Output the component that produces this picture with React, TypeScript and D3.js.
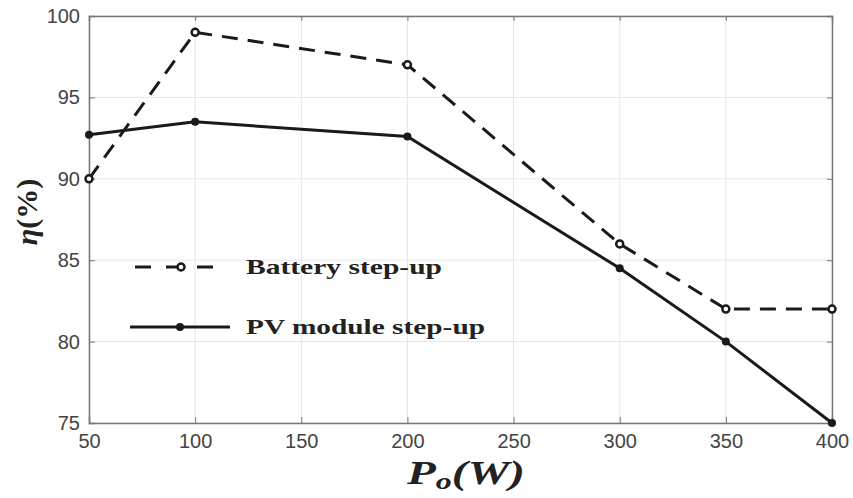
import React, { useEffect, useRef } from 'react';
import * as d3 from 'd3';

const powerW = [50, 100, 200, 300, 350, 400];
const batteryEff = [90, 99, 97, 86, 82, 82];
const pvEff = [92.7, 93.5, 92.6, 84.5, 80, 75];
const xTicks = [50, 100, 150, 200, 250, 300, 350, 400];
const yTicks = [75, 80, 85, 90, 95, 100];

const App = () => {
    const svgRef = useRef<SVGSVGElement>(null);

    useEffect(() => {
        const svg = d3.select(svgRef.current);
        svg.selectAll("*").remove();

        const width = 853;
        const height = 498;
        const marginLeft = 89;
        const marginRight = 21;
        const marginTop = 16;
        const marginBottom = 75;

        const x = d3.scaleLinear([50, 400], [marginLeft, width - marginRight]);
        const y = d3.scaleLinear([75, 100], [height - marginBottom, marginTop]);

        svg.attr("width", width).attr("height", height).style("display", "block");

        svg.append("rect").attr("width", width).attr("height", height).attr("fill", "#fff");

        // grid
        const grid = svg.append("g").attr("stroke", "#e6e6e6").attr("stroke-width", 1);
        xTicks.forEach(t => grid.append("line")
            .attr("x1", x(t)).attr("x2", x(t))
            .attr("y1", y(75)).attr("y2", y(100)));
        yTicks.forEach(t => grid.append("line")
            .attr("x1", x(50)).attr("x2", x(400))
            .attr("y1", y(t)).attr("y2", y(t)));

        const tickFont = "'Liberation Sans', Arial, sans-serif";

        // axes
        svg.append("g")
            .attr("transform", `translate(0,${y(75)})`)
            .call(d3.axisBottom(x).tickValues(xTicks).tickSize(-6).tickPadding(11).tickFormat(d3.format("d")))
            .call(g => g.select(".domain").attr("stroke", "#777").attr("stroke-width", 1.5))
            .call(g => g.selectAll(".tick line").attr("stroke", "#777"))
            .call(g => g.selectAll(".tick text")
                .attr("fill", "#444").attr("font-size", 20).attr("font-family", tickFont));

        svg.append("g")
            .attr("transform", `translate(${x(50)},0)`)
            .call(d3.axisLeft(y).tickValues(yTicks).tickSize(-6).tickPadding(9).tickFormat(d3.format("d")))
            .call(g => g.select(".domain").attr("stroke", "#777").attr("stroke-width", 1.5))
            .call(g => g.selectAll(".tick line").attr("stroke", "#777"))
            .call(g => g.selectAll(".tick text")
                .attr("fill", "#444").attr("font-size", 20).attr("font-family", tickFont));

        svg.append("g")
            .attr("transform", `translate(0,${y(100)})`)
            .call(d3.axisTop(x).tickValues(xTicks).tickSize(-5).tickFormat(() => ""))
            .call(g => g.select(".domain").attr("stroke", "#777").attr("stroke-width", 1.5))
            .call(g => g.selectAll(".tick line").attr("stroke", "#777"));

        svg.append("g")
            .attr("transform", `translate(${x(400)},0)`)
            .call(d3.axisRight(y).tickValues(yTicks).tickSize(-5).tickFormat(() => ""))
            .call(g => g.select(".domain").attr("stroke", "#777").attr("stroke-width", 1.5))
            .call(g => g.selectAll(".tick line").attr("stroke", "#777"));

        const line = d3.line<number>()
            .x((d, i) => x(powerW[i]))
            .y(d => y(d));

        // battery series
        svg.append("path")
            .attr("fill", "none")
            .attr("stroke", "#1a1a1a")
            .attr("stroke-width", 3)
            .attr("stroke-dasharray", "16,10")
            .attr("d", line(batteryEff));
        svg.append("g").selectAll("circle").data(batteryEff).join("circle")
            .attr("cx", (d, i) => x(powerW[i])).attr("cy", d => y(d))
            .attr("r", 3.5).attr("fill", "#fff").attr("stroke", "#1a1a1a").attr("stroke-width", 2.5);

        // pv series
        svg.append("path")
            .attr("fill", "none")
            .attr("stroke", "#1a1a1a")
            .attr("stroke-width", 3)
            .attr("d", line(pvEff));
        svg.append("g").selectAll("circle").data(pvEff).join("circle")
            .attr("cx", (d, i) => x(powerW[i])).attr("cy", d => y(d))
            .attr("r", 4).attr("fill", "#1a1a1a");

        // legend
        const legend = svg.append("g").attr("font-family", "'Liberation Serif', 'Times New Roman', serif")
            .attr("font-weight", "bold").attr("font-size", 21).attr("fill", "#222");
        legend.append("line").attr("x1", 135).attr("x2", 228).attr("y1", 267).attr("y2", 267)
            .attr("stroke", "#1a1a1a").attr("stroke-width", 3).attr("stroke-dasharray", "16,15");
        legend.append("circle").attr("cx", 181).attr("cy", 267).attr("r", 3.5)
            .attr("fill", "#fff").attr("stroke", "#1a1a1a").attr("stroke-width", 2.5);
        legend.append("text").attr("x", 246).attr("y", 274)
            .attr("textLength", 196).attr("lengthAdjust", "spacingAndGlyphs").text("Battery step-up");
        legend.append("line").attr("x1", 130).attr("x2", 230).attr("y1", 327).attr("y2", 327)
            .attr("stroke", "#1a1a1a").attr("stroke-width", 3);
        legend.append("circle").attr("cx", 180).attr("cy", 327).attr("r", 4).attr("fill", "#1a1a1a");
        legend.append("text").attr("x", 246).attr("y", 334)
            .attr("textLength", 239).attr("lengthAdjust", "spacingAndGlyphs").text("PV module step-up");

        // axis titles
        svg.append("text")
            .attr("transform", `translate(37,212) rotate(-90)`)
            .attr("text-anchor", "middle")
            .attr("font-family", "'Liberation Serif', 'Times New Roman', serif")
            .attr("font-size", 30).attr("font-weight", "bold").attr("fill", "#222")
            .call(t => t.append("tspan").attr("font-style", "italic").text("η"))
            .call(t => t.append("tspan").text("(%)"));

        svg.append("text")
            .attr("x", 407)
            .attr("y", 484)
            .attr("font-family", "'Liberation Serif', 'Times New Roman', serif")
            .attr("font-size", 34).attr("font-weight", "bold").attr("font-style", "italic").attr("fill", "#222")
            .attr("textLength", 118).attr("lengthAdjust", "spacingAndGlyphs")
            .call(t => t.append("tspan").text("P"))
            .call(t => t.append("tspan").attr("font-size", 23).attr("dy", 5).text("o"))
            .call(t => t.append("tspan").attr("dy", -5).text("(W)"));
    }, []);

    return <svg ref={svgRef} style={{ position: "absolute", left: 0, top: 0 }} />;
};

export default App;
